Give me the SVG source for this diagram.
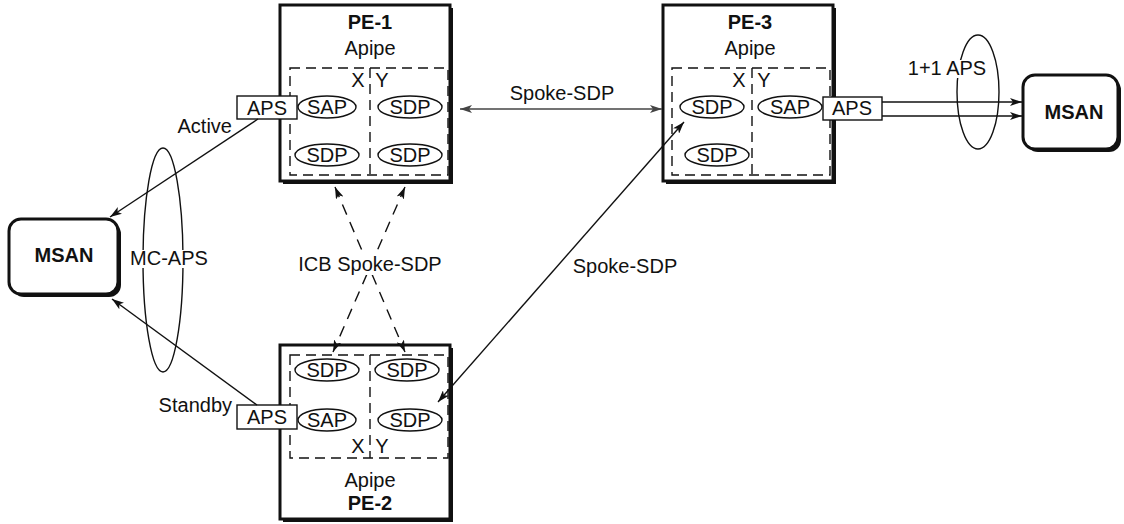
<svg xmlns="http://www.w3.org/2000/svg" width="1124" height="524" viewBox="0 0 1124 524">
<defs>
<style>
text{font-family:"Liberation Sans",Arial,sans-serif;font-size:20px;fill:#111;text-anchor:middle}
.b{font-weight:bold}
.e{text-anchor:end}
.pe{fill:#fff;stroke:#111;stroke-width:3}
.sh{fill:#111}
.dash{fill:none;stroke:#111;stroke-width:1.4;stroke-dasharray:10,6}
.el{fill:#fff;stroke:#111;stroke-width:1.4}
.ring{fill:none;stroke:#111;stroke-width:1.4}
.aps{fill:#fff;stroke:#111;stroke-width:1.4}
.ln{fill:none;stroke:#111;stroke-width:1.4}
.dl{fill:none;stroke:#111;stroke-width:1.4;stroke-dasharray:11,8}
.bg{fill:#fff}
</style>
<marker id="ah" viewBox="0 0 12 8" refX="12" refY="4" markerWidth="12" markerHeight="8" orient="auto-start-reverse" markerUnits="userSpaceOnUse">
<path d="M0,0 L12,4 L0,8 L3,4 z" fill="#111"/>
</marker>
<marker id="ahg" viewBox="0 0 12 8" refX="12" refY="4" markerWidth="12" markerHeight="8" orient="auto-start-reverse" markerUnits="userSpaceOnUse">
<path d="M0,0 L12,4 L0,8 L3,4 z" fill="#444"/>
</marker>
</defs>
<rect width="1124" height="524" fill="#fff"/>

<g id="msan-left">
<rect class="sh" x="12" y="222" width="109" height="75" rx="12"/>
<rect class="pe" x="9" y="219" width="109" height="75" rx="12"/>
<text class="b" x="64" y="262">MSAN</text>
</g>

<g id="msan-right">
<rect class="sh" x="1026" y="78" width="95" height="74" rx="12"/>
<rect class="pe" x="1023" y="75" width="95" height="74" rx="12"/>
<text class="b" x="1074" y="119">MSAN</text>
</g>

<g id="pe1">
<rect class="sh" x="283" y="8" width="170" height="176"/>
<rect class="pe" x="280" y="5" width="170" height="176"/>
<text class="b" x="370" y="29">PE-1</text>
<text x="370" y="55">Apipe</text>
<rect class="dash" x="290" y="68" width="158" height="107"/>
<line class="dash" x1="370" y1="68" x2="370" y2="175"/>
<text x="358" y="87">X</text>
<text x="382" y="87">Y</text>
<ellipse class="el" cx="327" cy="107" rx="29" ry="11"/>
<text x="327" y="114">SAP</text>
<ellipse class="el" cx="410" cy="107" rx="32" ry="11"/>
<text x="410" y="114">SDP</text>
<ellipse class="el" cx="327" cy="155" rx="32" ry="11"/>
<text x="327" y="162">SDP</text>
<ellipse class="el" cx="410" cy="155" rx="32" ry="11"/>
<text x="410" y="162">SDP</text>
<rect class="aps" x="237" y="96" width="60" height="23"/>
<text x="267" y="115">APS</text>
</g>

<g id="pe2">
<rect class="sh" x="283" y="348" width="170" height="174"/>
<rect class="pe" x="280" y="345" width="170" height="174"/>
<text x="370" y="487">Apipe</text>
<text class="b" x="370" y="510">PE-2</text>
<rect class="dash" x="290" y="355" width="158" height="103"/>
<line class="dash" x1="370" y1="355" x2="370" y2="458"/>
<text x="358" y="453">X</text>
<text x="382" y="453">Y</text>
<ellipse class="el" cx="327" cy="370" rx="32" ry="11"/>
<text x="327" y="377">SDP</text>
<ellipse class="el" cx="407" cy="370" rx="32" ry="11"/>
<text x="407" y="377">SDP</text>
<ellipse class="el" cx="327" cy="420" rx="29" ry="11"/>
<text x="327" y="427">SAP</text>
<ellipse class="el" cx="410" cy="420" rx="32" ry="11"/>
<text x="410" y="427">SDP</text>
<rect class="aps" x="237" y="405" width="60" height="24"/>
<text x="267" y="424">APS</text>
</g>

<g id="pe3">
<rect class="sh" x="666" y="8" width="170" height="176"/>
<rect class="pe" x="663" y="5" width="170" height="176"/>
<text class="b" x="750" y="29">PE-3</text>
<text x="750" y="55">Apipe</text>
<rect class="dash" x="672" y="68" width="158" height="107"/>
<line class="dash" x1="752" y1="68" x2="752" y2="175"/>
<text x="739" y="87">X</text>
<text x="764" y="87">Y</text>
<ellipse class="el" cx="712" cy="107" rx="32" ry="11"/>
<text x="712" y="114">SDP</text>
<ellipse class="el" cx="790" cy="107" rx="32" ry="11"/>
<text x="790" y="114">SAP</text>
<ellipse class="el" cx="717" cy="155" rx="32" ry="11"/>
<text x="717" y="162">SDP</text>
<rect class="aps" x="823" y="97" width="59" height="23"/>
<text x="852" y="115">APS</text>
</g>

<g id="connectors">
<line class="ln" x1="258" y1="119" x2="110" y2="217" marker-end="url(#ah)"/>
<line class="ln" x1="257" y1="405" x2="112" y2="299" marker-end="url(#ah)"/>
<line class="dl" x1="335" y1="187" x2="405" y2="352" marker-start="url(#ah)" marker-end="url(#ah)"/>
<line class="dl" x1="405" y1="187" x2="333" y2="352" marker-start="url(#ah)" marker-end="url(#ah)"/>
<line x1="460" y1="109" x2="662" y2="109" stroke="#444" stroke-width="1.6" marker-start="url(#ahg)" marker-end="url(#ahg)"/>
<line class="ln" x1="438" y1="402" x2="684" y2="122" marker-start="url(#ah)" marker-end="url(#ah)"/>
<line class="ln" x1="882" y1="102" x2="1022" y2="102" marker-end="url(#ah)"/>
<line class="ln" x1="882" y1="116" x2="1022" y2="116" marker-end="url(#ah)"/>
<ellipse class="ring" cx="163" cy="260" rx="20" ry="112"/>
<ellipse class="ring" cx="978" cy="92" rx="21" ry="57"/>
<rect class="bg" x="300" y="255" width="140" height="20"/>
<rect class="bg" x="128" y="250" width="84" height="18"/>
<text x="370" y="271">ICB Spoke-SDP</text>
<text x="562" y="100">Spoke-SDP</text>
<text x="625" y="273">Spoke-SDP</text>
<text x="169" y="265">MC-APS</text>
<rect class="bg" x="908" y="60" width="55" height="18"/>
<text x="947" y="75">1+1 APS</text>
<text class="e" x="232" y="133">Active</text>
<text class="e" x="232" y="412">Standby</text>
</g>
</svg>
